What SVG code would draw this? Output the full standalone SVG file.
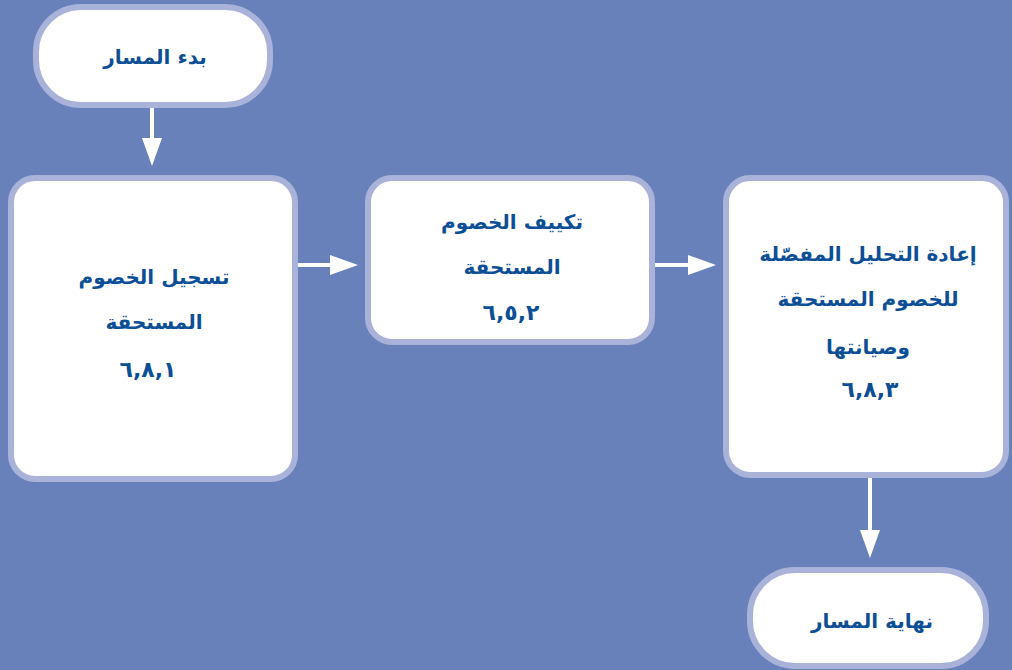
<svg xmlns="http://www.w3.org/2000/svg" width="1012" height="670" viewBox="0 0 1012 670">
<style>
.node{fill:#ffffff;stroke:#a9b3da;stroke-width:6}
.t{font-family:"DejaVu Sans",sans-serif;font-weight:bold;font-size:20px;fill:#0d4f96;text-anchor:middle}
.n{font-size:22px;letter-spacing:5px}
.c{stroke:#ffffff;stroke-width:4;fill:none}
</style>
<rect width="1012" height="670" fill="#6881ba"/>
<g id="connectors">
<line class="c" x1="152" y1="108" x2="152" y2="140"/>
<path d="M142,138 L162,138 L152,166 Z" fill="#ffffff"/>
<line class="c" x1="298" y1="265" x2="332" y2="265"/>
<path d="M330,255 L330,275 L358,265 Z" fill="#ffffff"/>
<line class="c" x1="655" y1="265" x2="690" y2="265"/>
<path d="M688,255 L688,275 L716,265 Z" fill="#ffffff"/>
<line class="c" x1="870" y1="478" x2="870" y2="532"/>
<path d="M860,530 L880,530 L870,558 Z" fill="#ffffff"/>
</g>
<g id="start">
<rect class="node" x="36" y="7" width="234" height="98" rx="45"/>
<text class="t" x="155" y="64">بدء المسار</text>
</g>
<g id="box1">
<rect class="node" x="11" y="178" width="284" height="301" rx="24"/>
<text class="t" x="154" y="284">تسجيل الخصوم</text>
<text class="t" x="154" y="329">المستحقة</text>
<text class="t n" x="148" y="377">٦,٨,١</text>
</g>
<g id="box2">
<rect class="node" x="368" y="178" width="284" height="164" rx="24"/>
<text class="t" x="512" y="229">تكييف الخصوم</text>
<text class="t" x="512" y="274">المستحقة</text>
<text class="t n" x="511" y="320">٦,٥,٢</text>
</g>
<g id="box3">
<rect class="node" x="726" y="178" width="280" height="297" rx="24"/>
<text class="t" x="868" y="261">إعادة التحليل المفصّلة</text>
<text class="t" x="868" y="306">للخصوم المستحقة</text>
<text class="t" x="868" y="354">وصيانتها</text>
<text class="t n" x="870" y="397">٦,٨,٣</text>
</g>
<g id="end">
<rect class="node" x="750" y="570" width="236" height="96" rx="45"/>
<text class="t" x="872" y="628">نهاية المسار</text>
</g>
</svg>
